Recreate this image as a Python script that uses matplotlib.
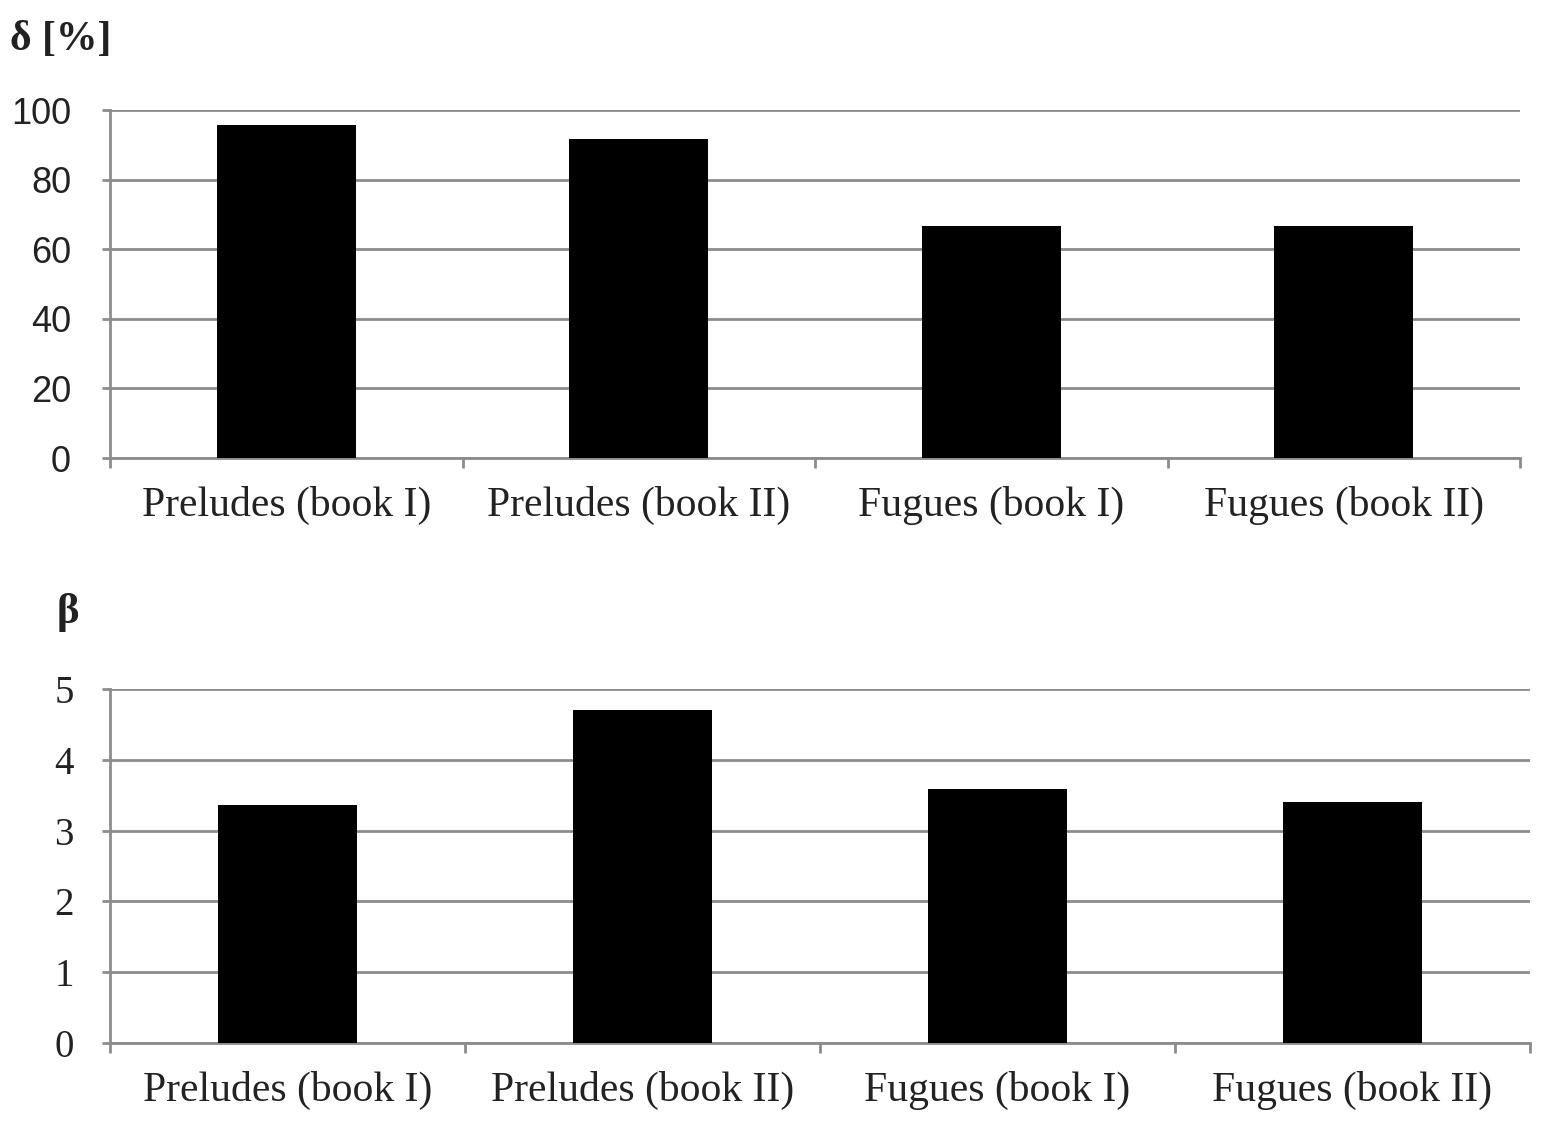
import matplotlib
matplotlib.use("Agg")
import matplotlib.pyplot as plt
import numpy as np

categories = ["Preludes (book I)", "Preludes (book II)", "Fugues (book I)", "Fugues (book II)"]
delta_vals = [95.7, 91.7, 66.8, 66.8]
beta_vals = [3.36, 4.70, 3.59, 3.40]
delta_ticks = [0, 20, 40, 60, 80, 100]
beta_ticks = [0, 1, 2, 3, 4, 5]

W, H = 1566, 1133
fig = plt.figure(figsize=(W / 100, H / 100), dpi=100)
fig.patch.set_facecolor("white")

grid_c = "#8c8c8c"
serif = "Liberation Serif"
sans = "Liberation Sans"


def make(ax, vals, ticks, ymax, tickfont, tickfs, ypad):
    x = np.arange(len(vals))
    ax.bar(x, vals, width=0.394, color="black", zorder=3)
    ax.set_xlim(-0.5, len(vals) - 0.5)
    ax.set_ylim(0, ymax)
    ax.set_yticks(ticks)
    ax.set_yticklabels([str(t) for t in ticks], fontfamily=tickfont, fontsize=tickfs, color="#222222")
    ax.yaxis.grid(True, color=grid_c, linewidth=2, zorder=0)
    ax.set_axisbelow(True)
    for s in ["top", "right"]:
        ax.spines[s].set_visible(False)
    for s in ["left", "bottom"]:
        ax.spines[s].set_color(grid_c)
        ax.spines[s].set_linewidth(2)
    ax.tick_params(axis="y", length=6, width=2, color=grid_c, pad=ypad)
    # x ticks at category boundaries
    ax.set_xticks(np.arange(len(vals) + 1) - 0.5)
    ax.set_xticklabels([])
    ax.tick_params(axis="x", which="major", length=7, width=2, color=grid_c)
    ax.set_xticks(x, minor=True)
    ax.set_xticklabels(categories, minor=True, fontfamily=serif, fontsize=30, color="#222222")
    ax.tick_params(axis="x", which="minor", length=0, pad=20)


ax1 = fig.add_axes([110 / W, 1 - 458 / H, 1410 / W, 348 / H])
make(ax1, delta_vals, delta_ticks, 100, sans, 26, 22)
fig.text(10 / W, 1 - 40 / H, "δ [%]", fontfamily=serif, fontsize=30, fontweight="bold",
         va="center", ha="left", color="#222222")

ax2 = fig.add_axes([110 / W, 1 - 1043 / H, 1420 / W, 354 / H])
make(ax2, beta_vals, beta_ticks, 5, serif, 28, 20)
fig.text(57 / W, 1 - 612 / H, "β", fontfamily=serif, fontsize=31, fontweight="bold",
         va="center", ha="left", color="#222222")

fig.savefig("out.png", dpi=100, facecolor="white")
